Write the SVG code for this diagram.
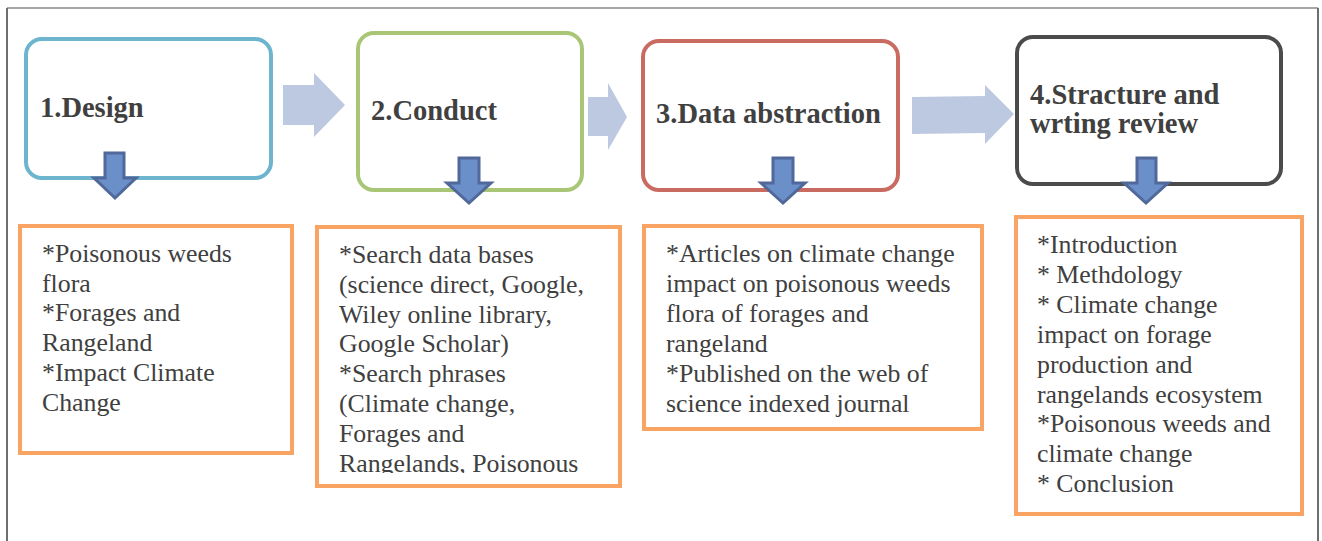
<svg xmlns="http://www.w3.org/2000/svg" width="1322" height="541" viewBox="0 0 1322 541">
<style>
.frame{fill:none;stroke-width:2}
.step{fill:#fff;stroke-width:4}
.note{fill:#fff;stroke:#F9A462;stroke-width:4}
.title{font-family:"Liberation Serif","Times New Roman",serif;font-weight:bold;font-size:28.5px;fill:#404040}
.txt{font-family:"Liberation Serif","Times New Roman",serif;font-size:25.8px;fill:#404040}
.big{fill:#BDC9E1}
.down{fill:#6B8FC9;stroke:#50699A;stroke-width:3;stroke-linejoin:miter}
</style>
<defs>
<clipPath id="clipB"><rect x="316" y="226" width="305" height="247"/></clipPath>
</defs>
<rect x="0" y="0" width="1322" height="541" fill="#fff"/>
<g id="frame">
<line x1="7" y1="8" x2="1318" y2="8" stroke="#A6A6A6" class="frame"/>
<line x1="7" y1="8" x2="7" y2="541" stroke="#6E6E6E" class="frame"/>
<line x1="1318" y1="8" x2="1318" y2="541" stroke="#6E6E6E" class="frame"/>
</g>
<g id="node1">
<rect x="26" y="39" width="245" height="139" rx="16" class="step" stroke="#6DB5CF"/>
<text x="40" y="117" class="title">1.Design</text>
</g>
<g id="node2">
<rect x="358" y="33" width="224" height="157" rx="16" class="step" stroke="#A9C677"/>
<text x="371" y="120" class="title">2.Conduct</text>
</g>
<g id="node3">
<rect x="643" y="41" width="255" height="149" rx="16" class="step" stroke="#C96B60"/>
<text x="656" y="123" class="title">3.Data abstraction</text>
</g>
<g id="node4">
<rect x="1017" y="37" width="264" height="147" rx="16" class="step" stroke="#4B4B4B"/>
<text class="title"><tspan x="1030" y="104">4.Stracture and</tspan><tspan x="1030" y="133">wrting review</tspan></text>
</g>
<g id="noteA">
<rect x="20" y="226" width="272" height="227" class="note"/>
<text class="txt"><tspan x="42" y="262">*Poisonous weeds</tspan><tspan x="42" y="291.7">flora</tspan><tspan x="42" y="321.4">*Forages and</tspan><tspan x="42" y="351.1">Rangeland</tspan><tspan x="42" y="380.8">*Impact Climate</tspan><tspan x="42" y="410.5">Change</tspan></text>
</g>
<g id="noteB">
<rect x="317" y="227" width="303" height="259" class="note"/>
<text class="txt" clip-path="url(#clipB)"><tspan x="339" y="263">*Search data bases</tspan><tspan x="339" y="292.8">(science direct, Google,</tspan><tspan x="339" y="322.6">Wiley online library,</tspan><tspan x="339" y="352.4">Google Scholar)</tspan><tspan x="339" y="382.2">*Search phrases</tspan><tspan x="339" y="412">(Climate change,</tspan><tspan x="339" y="441.8">Forages and</tspan><tspan x="339" y="471.6">Rangelands, Poisonous</tspan></text>
</g>
<g id="noteC">
<rect x="644" y="226" width="338" height="203" class="note"/>
<text class="txt"><tspan x="666" y="262">*Articles on climate change</tspan><tspan x="666" y="292">impact on poisonous weeds</tspan><tspan x="666" y="322">flora of forages and</tspan><tspan x="666" y="352">rangeland</tspan><tspan x="666" y="382">*Published on the web of</tspan><tspan x="666" y="412">science indexed journal</tspan></text>
</g>
<g id="noteD">
<rect x="1016" y="217" width="286" height="297" class="note"/>
<text class="txt"><tspan x="1037" y="253">*Introduction</tspan><tspan x="1037" y="282.9">* Methdology</tspan><tspan x="1037" y="312.8">* Climate change</tspan><tspan x="1037" y="342.7">impact on forage</tspan><tspan x="1037" y="372.6">production and</tspan><tspan x="1037" y="402.5">rangelands ecosystem</tspan><tspan x="1037" y="432.4">*Poisonous weeds and</tspan><tspan x="1037" y="462.3">climate change</tspan><tspan x="1037" y="492.2">* Conclusion</tspan></text>
</g>
<g id="connectors">
<polygon class="big" points="283,85 314,85 314,73 345,105 314,137 314,125 283,125"/>
<polygon class="big" points="588,97 608,97 608,83 627,117 608,150 608,136 588,136"/>
<polygon class="big" points="912,97 985,96 985,85 1014,114 985,144 985,133 912,134"/>
<polygon class="down" points="105,153 124,153 124,178 136,178 115,198 94,178 105,178"/>
<polygon class="down" points="459,158 479,158 479,183 491,183 469,203 447,183 459,183"/>
<polygon class="down" points="773,158 793,158 793,183 805,183 783,203 761,183 773,183"/>
<polygon class="down" points="1137,158 1156,158 1156,183 1168,183 1146,203 1124,183 1137,183"/>
</g>
</svg>
